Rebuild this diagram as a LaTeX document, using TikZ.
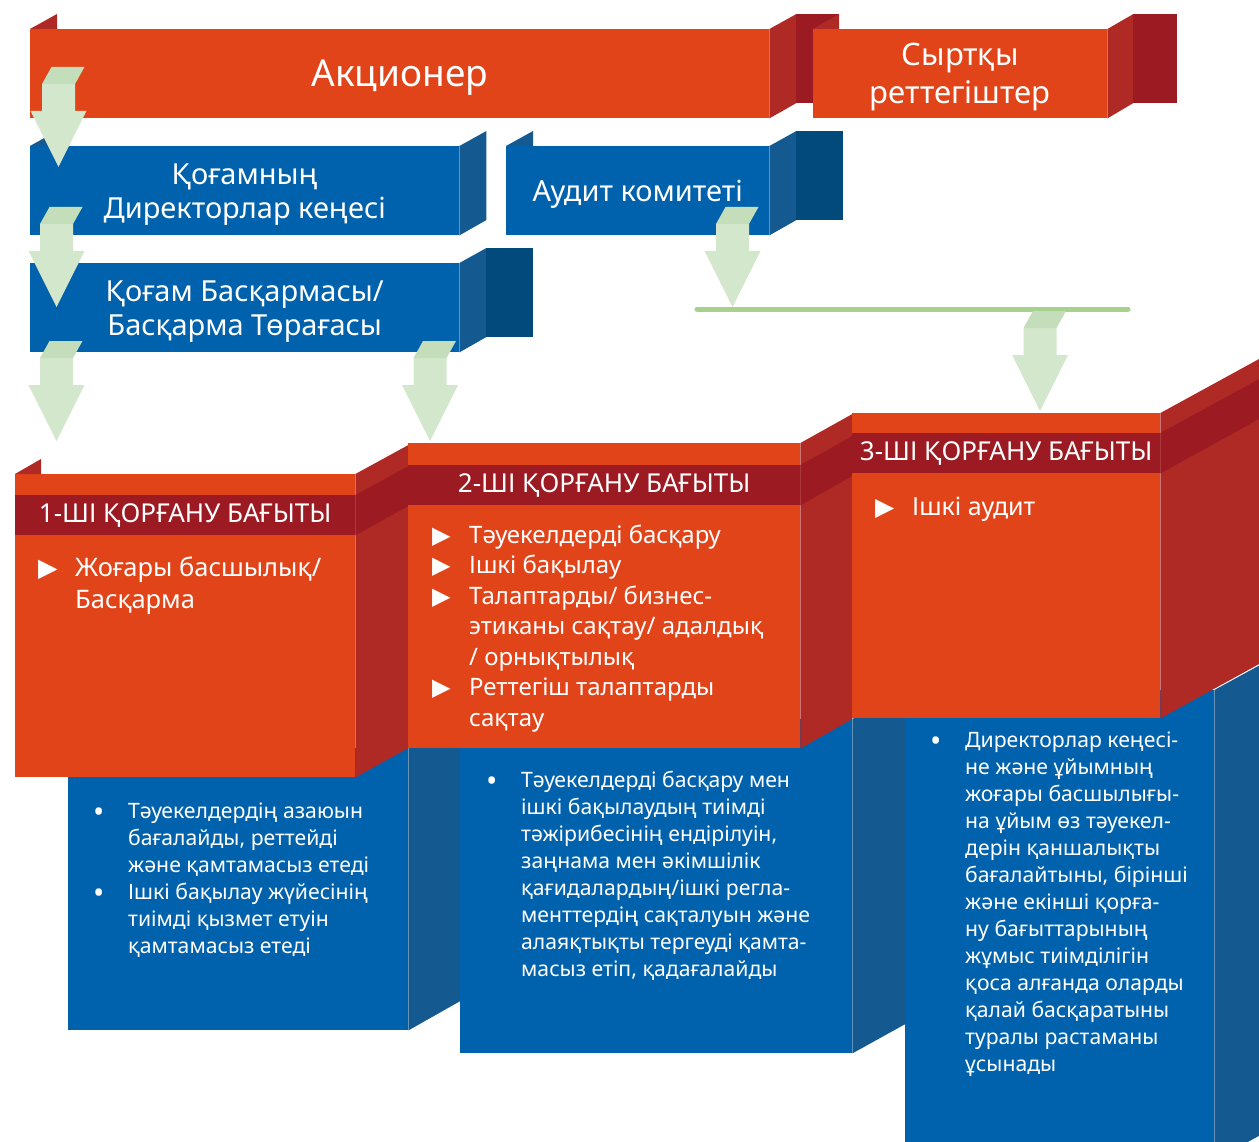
\documentclass[tikz,border=0pt]{standalone}
\usepackage{fontspec}
\setmainfont{Noto Sans}
\newfontfamily\symfont{DejaVu Sans}
\usetikzlibrary{positioning}
\definecolor{ored}{HTML}{E24419}
\definecolor{sred}{HTML}{B02A25}
\definecolor{dred}{HTML}{9C1B23}
\definecolor{fblue}{HTML}{0062AC}
\definecolor{sblue}{HTML}{14598F}
\definecolor{dblue}{HTML}{024A7C}
\definecolor{garr}{HTML}{D3E7CC}
\definecolor{gtop}{HTML}{C4DEBB}
\definecolor{gline}{HTML}{A9D18E}
\newcommand{\redmark}{\makebox[37pt][l]{\symfont ▶}}
\newcommand{\bluemark}{\makebox[35pt][l]{\raisebox{-4pt}{\fontsize{30}{27}\selectfont •}}}
\tikzset{
  facered/.style={fill=ored,inner sep=0pt,anchor=north west,text=white,align=center,text depth=0pt},
  faceblue/.style={fill=fblue,inner sep=0pt,anchor=north west,text=white,align=center,text depth=0pt},
  sidered/.style={fill=sred},
  sideblue/.style={fill=sblue},
  backred/.style={fill=dred},
  backblue/.style={fill=dblue},
  band/.style={fill=dred,inner sep=0pt,anchor=north west,text=white,
               minimum height=40pt,font=\fontsize{26}{30}\selectfont},
  garrow/.style={fill=garr},
  gface/.style={fill=gtop},
  redlist/.style={anchor=base west,inner sep=0pt,text=white,font=\fontsize{24}{30.5}\selectfont},
  bluelist/.style={anchor=base west,inner sep=0pt,text=white,font=\fontsize{21.2}{27}\selectfont}
}

\begin{document}
\begin{tikzpicture}[x=1pt,y=-1pt]
\useasboundingbox (0,0) rectangle (1259,1142);
\clip (0,0) rectangle (1259,1142);

% top row
\node[facered,minimum width=739pt,minimum height=89pt,font=\fontsize{37}{44}\selectfont] (akc) at (30,29) {Акционер};
\fill[sidered] (akc.north west) -- ++(27,-15) -- ++(0,15) -- cycle;
\fill[sidered] (akc.north east) -- ++(27,-15) -- ++(0,89) -- (akc.south east) -- cycle;
\fill[backred] (akc.north east) ++(27,-15) rectangle ++(43,89);

\node[facered,minimum width=294pt,minimum height=89pt,font=\fontsize{31}{38}\selectfont] (reg) at (813,29) {Сыртқы\\реттегіштер};
\fill[sidered] (reg.north west) -- ++(26,-15) -- ++(0,15) -- cycle;
\fill[sidered] (reg.north east) -- ++(26,-15) -- ++(0,89) -- (reg.south east) -- cycle;
\fill[backred] (reg.north east) ++(26,-15) rectangle ++(44,89);

% blue boards
\node[faceblue,minimum width=429pt,minimum height=89pt,font=\fontsize{29}{34}\selectfont] (dir) at (30,146) {Қоғамның\\Директорлар кеңесі};
\fill[sideblue] (dir.north west) -- ++(27,-15) -- ++(0,15) -- cycle;
\fill[sideblue] (dir.north east) -- ++(27,-15) -- ++(0,89) -- (dir.south east) -- cycle;

\node[faceblue,minimum width=263pt,minimum height=89pt,font=\fontsize{29}{34}\selectfont] (aud) at (506,146) {Аудит комитеті};
\fill[sideblue] (aud.north west) -- ++(27,-15) -- ++(0,15) -- cycle;
\fill[sideblue] (aud.north east) -- ++(27,-15) -- ++(0,89) -- (aud.south east) -- cycle;
\fill[backblue] (aud.north east) ++(27,-15) rectangle ++(47,89);

\node[faceblue,minimum width=429pt,minimum height=89pt,font=\fontsize{29}{34}\selectfont] (man) at (30,263) {Қоғам Басқармасы/\\Басқарма Төрағасы};
\fill[sideblue] (man.north east) -- ++(27,-15) -- ++(0,89) -- (man.south east) -- cycle;
\fill[backblue] (man.north east) ++(27,-15) rectangle ++(47,89);

% green line and arrows
\coordinate (gl) at (697,309);
\coordinate (gr) at (1128,309);
\draw[gline,line width=5pt,line cap=round] (gl) -- (gr);
\foreach \c/\t in {58.5/67, 56.5/207, 56.5/341, 430/341, 732.5/207, 1040/311} {
  \fill[garrow] ({\c-16.5},{\t+17}) -- ({\c+16.5},{\t+17}) -- ({\c+16.5},{\t+44}) -- ({\c+28},{\t+44})
     -- (\c,{\t+100}) -- ({\c-28},{\t+44}) -- ({\c-16.5},{\t+44}) -- cycle;
  \fill[gface] ({\c-16.5},{\t+17}) -- ({\c-7},\t) -- ({\c+26},\t) -- ({\c+16.5},{\t+17}) -- cycle;
}

% blue steps
\node[faceblue,minimum width=340pt,minimum height=282pt] (blue1) at (68,748) {};
\fill[sideblue] (blue1.north east) -- ++(52,-29) -- ++(0,282) -- (blue1.south east) -- cycle;
\node[faceblue,minimum width=392pt,minimum height=334pt] (blue2) at (460,719) {};
\fill[sideblue] (blue2.north east) -- ++(53,-29) -- ++(0,334) -- (blue2.south east) -- cycle;
\node[faceblue,minimum width=309pt,minimum height=470pt] (blue3) at (905,690) {};
\fill[sideblue] (blue3.north east) -- ++(106,-58) -- ++(0,470) -- (blue3.south east) -- cycle;

% red steps
\node[facered,minimum width=340pt,minimum height=303pt] (red1) at (15,474) {};
\fill[sidered] (red1.north west) -- ++(26,-15) -- ++(0,15) -- cycle;
\fill[sidered] (red1.north east) -- ++(53,-29) -- ++(0,303) -- (red1.south east) -- cycle;
\node[band,minimum width=340pt] (band1) at ([yshift=-21pt]red1.north west) {1-ШІ ҚОРҒАНУ БАҒЫТЫ};
\fill[backred] (band1.north east) -- ++(53,-29) -- ++(0,40) -- (band1.south east) -- cycle;

\node[facered,minimum width=392pt,minimum height=305pt] (red2) at (408,443) {};
\fill[sidered] (red2.north east) -- ++(52,-29) -- ++(0,305) -- (red2.south east) -- cycle;
\node[band,minimum width=392pt] (band2) at ([yshift=-22pt]red2.north west) {2-ШІ ҚОРҒАНУ БАҒЫТЫ};
\fill[backred] (band2.north east) -- ++(52,-29) -- ++(0,40) -- (band2.south east) -- cycle;

\node[facered,minimum width=308pt,minimum height=305pt] (red3) at (852,413) {};
\fill[sidered] (red3.north east) -- ++(106,-58) -- ++(0,305) -- (red3.south east) -- cycle;
\node[band,minimum width=308pt] (band3) at ([yshift=-20pt]red3.north west) {3-ШІ ҚОРҒАНУ БАҒЫТЫ};
\fill[backred] (band3.north east) -- ++(106,-58) -- ++(0,40) -- (band3.south east) -- cycle;

% lists
\node[redlist,font=\fontsize{25.5}{32}\selectfont] (list1) at (38,576) {\begin{tabular}[t]{@{}l@{}l@{}}
  \redmark & Жоғары басшылық/\\ & Басқарма\end{tabular}};
\node[redlist] (list2) at (432,543) {\begin{tabular}[t]{@{}l@{}l@{}}
  \redmark & Тәуекелдерді басқару\\
  \redmark & Ішкі бақылау\\
  \redmark & Талаптарды/ бизнес-\\
           & этиканы сақтау/ адалдық\\
           & / орнықтылық\\
  \redmark & Реттегіш талаптарды\\
           & сақтау\end{tabular}};
\node[redlist,font=\fontsize{25}{31}\selectfont] (list3) at (875,515) {\begin{tabular}[t]{@{}l@{}l@{}}
  \redmark & Ішкі аудит\end{tabular}};

\node[bluelist] (text1) at (93,818) {\begin{tabular}[t]{@{}l@{}l@{}}
  \bluemark & Тәуекелдердің азаюын\\
            & бағалайды, реттейді\\
            & және қамтамасыз етеді\\
  \bluemark & Ішкі бақылау жүйесінің\\
            & тиімді қызмет етуін\\
            & қамтамасыз етеді\end{tabular}};
\node[bluelist] (text2) at (486,787) {\begin{tabular}[t]{@{}l@{}l@{}}
  \bluemark & Тәуекелдерді басқару мен\\
            & ішкі бақылаудың тиімді\\
            & тәжірибесінің ендірілуін,\\
            & заңнама мен әкімшілік\\
            & қағидалардың/ішкі регла-\\
            & менттердің сақталуын және\\
            & алаяқтықты тергеуді қамта-\\
            & масыз етіп, қадағалайды\end{tabular}};
\node[bluelist] (text3) at (930,747) {\begin{tabular}[t]{@{}l@{}l@{}}
  \bluemark & Директорлар кеңесі-\\
            & не және ұйымның\\
            & жоғары басшылығы-\\
            & на ұйым өз тәуекел-\\
            & дерін қаншалықты\\
            & бағалайтыны, бірінші\\
            & және екінші қорға-\\
            & ну бағыттарының\\
            & жұмыс тиімділігін\\
            & қоса алғанда оларды\\
            & қалай басқаратыны\\
            & туралы растаманы\\
            & ұсынады\end{tabular}};
\end{tikzpicture}
\end{document}
